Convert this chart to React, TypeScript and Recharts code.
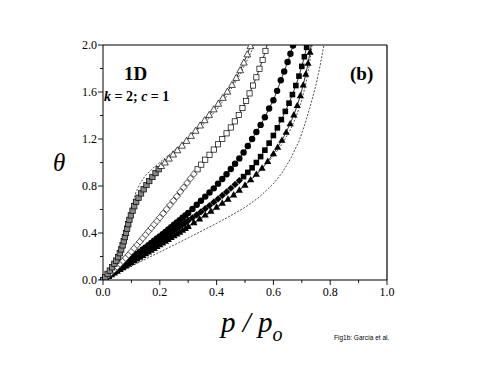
import React from 'react';
import { LineChart, Line, XAxis, YAxis, ReferenceLine } from 'recharts';

// [p/po, theta] pairs

// gray squares (low part) + open triangles (upper part)
const sqGrayPts: [number, number][] = [
  [0, 0], [0.008, 0.025], [0.016, 0.052], [0.024, 0.08], [0.032, 0.108], [0.04, 0.138],
  [0.047, 0.165], [0.053, 0.195], [0.059, 0.228], [0.064, 0.26], [0.069, 0.295], [0.073, 0.33],
  [0.077, 0.365], [0.081, 0.4], [0.085, 0.437], [0.089, 0.475], [0.093, 0.512], [0.098, 0.55],
  [0.104, 0.59], [0.11, 0.628], [0.117, 0.665], [0.125, 0.7], [0.134, 0.737], [0.143, 0.772],
  [0.153, 0.808], [0.163, 0.842], [0.174, 0.877], [0.185, 0.91], [0.196, 0.943],
];
const triOpenPts: [number, number][] = [
  [0.205, 0.97], [0.218, 1.0], [0.232, 1.033], [0.247, 1.068], [0.262, 1.104], [0.278, 1.143],
  [0.294, 1.184], [0.31, 1.226], [0.326, 1.27], [0.342, 1.315], [0.358, 1.36], [0.374, 1.405],
  [0.39, 1.452], [0.406, 1.5], [0.422, 1.55], [0.438, 1.603], [0.454, 1.66], [0.469, 1.72],
  [0.483, 1.785], [0.496, 1.85], [0.508, 1.92], [0.519, 1.99],
];

// open diamonds (low) + open squares (upper)
const diaOpenPts: [number, number][] = [
  [0, 0], [0.01, 0.02], [0.02, 0.042], [0.03, 0.065], [0.04, 0.088], [0.05, 0.112], [0.06, 0.136],
  [0.07, 0.161], [0.08, 0.187], [0.09, 0.214], [0.1, 0.242], [0.11, 0.27], [0.12, 0.298],
  [0.13, 0.327], [0.14, 0.356], [0.15, 0.385], [0.16, 0.414], [0.17, 0.443], [0.18, 0.472],
  [0.19, 0.501], [0.2, 0.531], [0.212, 0.566], [0.224, 0.602], [0.236, 0.638], [0.248, 0.675],
  [0.26, 0.712], [0.272, 0.75], [0.284, 0.788], [0.296, 0.826], [0.308, 0.864], [0.32, 0.902],
];
const sqOpenPts: [number, number][] = [
  [0.333, 0.942], [0.346, 0.982], [0.36, 1.024], [0.375, 1.066], [0.39, 1.11], [0.405, 1.155],
  [0.42, 1.2], [0.435, 1.248], [0.45, 1.298], [0.464, 1.35], [0.478, 1.405], [0.491, 1.463],
  [0.504, 1.524], [0.516, 1.588], [0.528, 1.655], [0.54, 1.725], [0.551, 1.798], [0.562, 1.873],
  [0.572, 1.95], [0.581, 2.03],
];

// filled circles
const circlePts: [number, number][] = [
  [0, 0], [0.01, 0.018], [0.02, 0.036], [0.03, 0.055], [0.04, 0.073], [0.05, 0.092],
  [0.06, 0.11], [0.07, 0.129], [0.08, 0.147], [0.09, 0.166], [0.1, 0.185], [0.11, 0.203],
  [0.12, 0.222], [0.13, 0.241], [0.14, 0.26], [0.15, 0.278], [0.16, 0.297], [0.17, 0.316],
  [0.18, 0.334], [0.19, 0.353], [0.2, 0.371], [0.21, 0.39], [0.22, 0.41], [0.23, 0.43],
  [0.24, 0.45], [0.25, 0.47], [0.26, 0.49], [0.27, 0.51], [0.28, 0.53], [0.29, 0.55],
  [0.3, 0.57], [0.315, 0.605], [0.33, 0.64], [0.345, 0.675], [0.36, 0.71], [0.375, 0.745],
  [0.39, 0.78], [0.405, 0.82], [0.42, 0.86], [0.435, 0.9], [0.45, 0.945], [0.465, 0.99],
  [0.48, 1.035], [0.495, 1.085], [0.51, 1.14], [0.525, 1.2], [0.54, 1.26], [0.555, 1.32],
  [0.57, 1.385], [0.585, 1.46], [0.6, 1.53], [0.613, 1.61], [0.626, 1.7], [0.638, 1.775],
  [0.65, 1.855], [0.66, 1.925], [0.669, 1.995],
];

// filled diamonds (low) + filled squares (upper)
const diaFillPts: [number, number][] = [
  [0, 0], [0.01, 0.016], [0.02, 0.032], [0.03, 0.048], [0.04, 0.064], [0.05, 0.08],
  [0.06, 0.096], [0.07, 0.113], [0.08, 0.129], [0.09, 0.146], [0.1, 0.163], [0.11, 0.18],
  [0.12, 0.196], [0.13, 0.213], [0.14, 0.23], [0.15, 0.246], [0.16, 0.263], [0.17, 0.28],
  [0.18, 0.297], [0.19, 0.314], [0.2, 0.331], [0.21, 0.349], [0.22, 0.366], [0.23, 0.383],
  [0.24, 0.401], [0.25, 0.419], [0.26, 0.437], [0.27, 0.455], [0.28, 0.472], [0.29, 0.489],
  [0.3, 0.505], [0.315, 0.53], [0.33, 0.555], [0.345, 0.58], [0.36, 0.607], [0.375, 0.634],
  [0.39, 0.662], [0.405, 0.69], [0.42, 0.72], [0.435, 0.75], [0.45, 0.781], [0.465, 0.813],
  [0.48, 0.846],
];
const sqFillPts: [number, number][] = [
  [0.495, 0.88], [0.51, 0.916], [0.525, 0.955], [0.54, 1.0], [0.555, 1.05], [0.57, 1.105],
  [0.585, 1.165], [0.6, 1.23], [0.614, 1.295], [0.628, 1.365], [0.642, 1.435], [0.655, 1.505],
  [0.667, 1.578], [0.679, 1.655], [0.69, 1.735], [0.7, 1.818], [0.709, 1.9], [0.717, 1.98],
  [0.724, 2.06],
];

// filled triangles
const triFillPts: [number, number][] = [
  [0, 0], [0.01, 0.015], [0.02, 0.03], [0.03, 0.045], [0.04, 0.06], [0.05, 0.075], [0.06, 0.09],
  [0.07, 0.105], [0.08, 0.12], [0.09, 0.135], [0.1, 0.15], [0.11, 0.165], [0.12, 0.18],
  [0.13, 0.195], [0.14, 0.21], [0.15, 0.225], [0.16, 0.24], [0.17, 0.255], [0.18, 0.27],
  [0.19, 0.285], [0.2, 0.3], [0.21, 0.315], [0.22, 0.331], [0.23, 0.346], [0.24, 0.362],
  [0.25, 0.377], [0.26, 0.393], [0.27, 0.408], [0.28, 0.424], [0.29, 0.44], [0.3, 0.456],
  [0.32, 0.488], [0.34, 0.52], [0.36, 0.553], [0.38, 0.586], [0.4, 0.62], [0.42, 0.654],
  [0.44, 0.689], [0.46, 0.725], [0.48, 0.765], [0.5, 0.808], [0.52, 0.853], [0.54, 0.9],
  [0.56, 0.952], [0.58, 1.01], [0.6, 1.075], [0.615, 1.13], [0.63, 1.19], [0.645, 1.258],
  [0.659, 1.33], [0.672, 1.405], [0.684, 1.485], [0.695, 1.57], [0.705, 1.66], [0.714, 1.752],
  [0.722, 1.845], [0.729, 1.94], [0.735, 2.035],
];

// dashed reference curves
const dashA: [number, number][] = [
  [0, 0], [0.02, 0.04], [0.04, 0.09], [0.06, 0.17], [0.075, 0.27], [0.085, 0.37], [0.095, 0.52],
  [0.105, 0.65], [0.115, 0.74], [0.13, 0.82], [0.15, 0.89], [0.175, 0.95], [0.2, 1.0],
  [0.24, 1.08], [0.28, 1.16], [0.32, 1.25], [0.36, 1.34], [0.4, 1.45], [0.44, 1.58],
  [0.48, 1.74], [0.51, 1.88], [0.533, 2.0],
];
const dashB: [number, number][] = [
  [0, 0], [0.05, 0.072], [0.1, 0.144], [0.15, 0.216], [0.2, 0.29], [0.25, 0.365], [0.3, 0.443],
  [0.35, 0.525], [0.4, 0.611], [0.45, 0.703], [0.5, 0.804], [0.55, 0.918], [0.6, 1.055],
  [0.63, 1.155], [0.66, 1.28], [0.68, 1.39], [0.7, 1.53], [0.715, 1.68], [0.727, 1.84], [0.736, 2.0],
];
const dashC: [number, number][] = [
  [0, 0], [0.05, 0.058], [0.1, 0.118], [0.15, 0.178], [0.2, 0.238], [0.25, 0.298], [0.3, 0.358],
  [0.35, 0.42], [0.4, 0.482], [0.45, 0.548], [0.5, 0.618], [0.55, 0.705], [0.6, 0.82],
  [0.63, 0.91], [0.66, 1.03], [0.69, 1.18], [0.71, 1.32], [0.73, 1.48], [0.75, 1.66],
  [0.765, 1.83], [0.778, 2.0],
];

const xTicks = [0, 0.1, 0.2, 0.3, 0.4, 0.5, 0.6, 0.7, 0.8, 0.9, 1.0];
const yTicks = [0, 0.2, 0.4, 0.6, 0.8, 1.0, 1.2, 1.4, 1.6, 1.8, 2.0];

const SERIF = '"Liberation Serif", "Times New Roman", serif';

const toPts = (a: [number, number][]) => a.map(([p, t]) => ({ p, t }));

type Kind = 'sqGray' | 'triOpen' | 'diaOpen' | 'sqOpen' | 'circle' | 'diaFill' | 'sqFill' | 'triFill';

const Marker = ({ cx, cy, kind }: { cx: number; cy: number; kind: Kind }) => {
  const sw = 0.7;
  switch (kind) {
    case 'sqGray':
      return <rect x={cx - 2.7} y={cy - 2.7} width={5.4} height={5.4} fill="#858585" stroke="#000" strokeWidth={sw} />;
    case 'sqOpen':
      return <rect x={cx - 2.6} y={cy - 2.6} width={5.2} height={5.2} fill="#fff" stroke="#000" strokeWidth={sw} />;
    case 'sqFill':
      return <rect x={cx - 2.8} y={cy - 2.8} width={5.6} height={5.6} fill="#000" />;
    case 'circle':
      return <circle cx={cx} cy={cy} r={3.2} fill="#000" />;
    case 'diaOpen':
      return <path d={`M${cx},${cy - 3.4}L${cx + 3.4},${cy}L${cx},${cy + 3.4}L${cx - 3.4},${cy}Z`} fill="#fff" stroke="#000" strokeWidth={sw} />;
    case 'diaFill':
      return <path d={`M${cx},${cy - 3.6}L${cx + 3.6},${cy}L${cx},${cy + 3.6}L${cx - 3.6},${cy}Z`} fill="#000" />;
    case 'triOpen':
      return <path d={`M${cx},${cy - 3.6}L${cx + 3.4},${cy + 2.5}L${cx - 3.4},${cy + 2.5}Z`} fill="#fff" stroke="#000" strokeWidth={sw} />;
    default:
      return <path d={`M${cx},${cy - 3.8}L${cx + 3.6},${cy + 2.6}L${cx - 3.6},${cy + 2.6}Z`} fill="#000" />;
  }
};

const dotFor = (low: Kind, high: Kind, split: number) => (props: any) => {
  const { cx, cy, index } = props;
  if (cx == null || cy == null) return <g key={`d${index}`} />;
  return <Marker key={`d${index}`} cx={cx} cy={cy} kind={index < split ? low : high} />;
};

const XTick = (props: any) => {
  const { x, y, payload } = props;
  const v = payload.value as number;
  const major = Math.round(v * 10) % 2 === 0;
  return (
    <g>
      <line x1={x} x2={x} y1={y} y2={y + (major ? 5 : 3)} stroke="#000" strokeWidth={0.9} />
      {major && (
        <text x={x} y={y + 16} textAnchor="middle" fontSize={12} fontFamily={SERIF} fill="#000">
          {v.toFixed(1)}
        </text>
      )}
    </g>
  );
};

const YTick = (props: any) => {
  const { x, y, payload } = props;
  const v = payload.value as number;
  const major = Math.round(v * 10) % 4 === 0;
  return (
    <g>
      <line x1={x} x2={x - (major ? 5 : 3)} y1={y} y2={y} stroke="#000" strokeWidth={0.9} />
      {major && (
        <text x={x - 6} y={y + 4} textAnchor="end" fontSize={12} fontFamily={SERIF} fill="#000">
          {v.toFixed(1)}
        </text>
      )}
    </g>
  );
};

const App = () => {
  const c1 = toPts([...sqGrayPts, ...triOpenPts]);
  const c2 = toPts([...diaOpenPts, ...sqOpenPts]);
  const c3 = toPts(circlePts);
  const c4 = toPts([...diaFillPts, ...sqFillPts]);
  const c5 = toPts(triFillPts);

  return (
    <div style={{ position: 'absolute', left: 0, top: 0, width: 491, height: 379, background: '#fff' }}>
      <LineChart width={491} height={379} margin={{ top: 45, right: 104, bottom: 69, left: 63 }}>
        <XAxis
          dataKey="p"
          type="number"
          domain={[0, 1]}
          ticks={xTicks}
          interval={0}
          height={30}
          tickSize={0}
          tickMargin={0}
          tickLine={false}
          tick={<XTick />}
          stroke="#000"
          strokeWidth={1}
        />
        <YAxis
          dataKey="t"
          type="number"
          domain={[0, 2]}
          allowDataOverflow
          ticks={yTicks}
          interval={0}
          width={40}
          tickSize={0}
          tickMargin={0}
          tickLine={false}
          tick={<YTick />}
          stroke="#000"
          strokeWidth={1}
        />

        <Line data={toPts(dashA)} dataKey="t" stroke="#000" strokeWidth={0.7} strokeDasharray="2 1.5" dot={false} isAnimationActive={false} />
        <Line data={toPts(dashB)} dataKey="t" stroke="#000" strokeWidth={0.7} strokeDasharray="2 1.5" dot={false} isAnimationActive={false} />
        <Line data={toPts(dashC)} dataKey="t" stroke="#000" strokeWidth={0.7} strokeDasharray="2 1.5" dot={false} isAnimationActive={false} />

        <Line data={c5} dataKey="t" stroke="#000" strokeWidth={0.8} dot={dotFor('triFill', 'triFill', 0)} isAnimationActive={false} />
        <Line data={c4} dataKey="t" stroke="#000" strokeWidth={0.8} dot={dotFor('diaFill', 'sqFill', diaFillPts.length)} isAnimationActive={false} />
        <Line data={c3} dataKey="t" stroke="#000" strokeWidth={0.8} dot={dotFor('circle', 'circle', 0)} isAnimationActive={false} />
        <Line data={c2} dataKey="t" stroke="#000" strokeWidth={0.8} dot={dotFor('diaOpen', 'sqOpen', diaOpenPts.length)} isAnimationActive={false} />
        <Line data={c1} dataKey="t" stroke="#000" strokeWidth={0.8} dot={dotFor('sqGray', 'triOpen', sqGrayPts.length)} isAnimationActive={false} />

        <ReferenceLine y={2} stroke="#000" strokeWidth={1.2} ifOverflow="visible" />
        <ReferenceLine x={1} stroke="#000" strokeWidth={1.2} ifOverflow="visible" />
      </LineChart>

      <svg width={491} height={379} style={{ position: 'absolute', left: 0, top: 0, pointerEvents: 'none' }}>
        <text x={124} y={80} fontSize={19} fontWeight="bold" fontFamily={SERIF}>1D</text>
        <text x={104} y={101} fontSize={14} fontWeight="bold" fontFamily={SERIF}>
          <tspan fontStyle="italic">k</tspan> = 2; <tspan fontStyle="italic">c</tspan> = 1
        </text>
        <text x={350} y={80} fontSize={19} fontWeight="bold" fontFamily={SERIF}>(b)</text>
        <text x={53} y={171} fontSize={25} fontStyle="italic" fontFamily={SERIF}>θ</text>
        <text x={221} y={332} fontSize={29} fontStyle="italic" fontFamily={SERIF}>
          p / p<tspan fontSize={20} dy={9}>o</tspan>
        </text>
        <text x={334} y={340} fontSize={6.5} fontFamily={'"Liberation Sans", Arial, sans-serif'}>Fig1b: García et al.</text>
      </svg>
    </div>
  );
};

export default App;
